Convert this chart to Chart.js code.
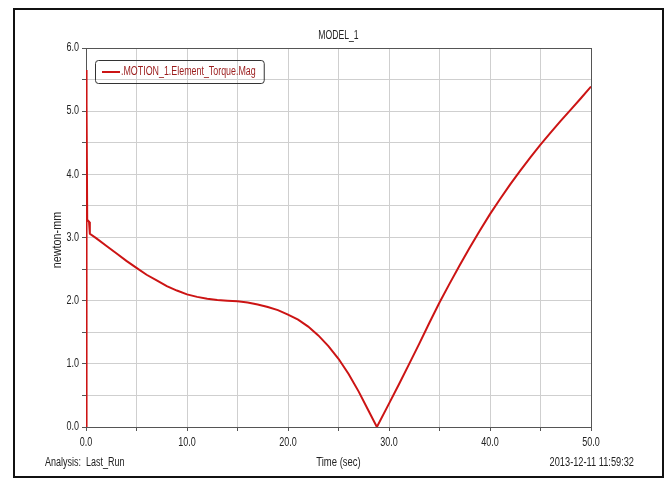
<!DOCTYPE html>
<html>
<head>
<meta charset="utf-8">
<script src="https://cdn.jsdelivr.net/npm/chart.js@4/dist/chart.umd.min.js"></script>
<style>
  body { margin: 0; background: #fff; }
</style>
</head>
<body>
<canvas id="myChart" width="666" height="479"></canvas>
<script>
var chartTitle = "MODEL_1";
var seriesName = ".MOTION_1.Element_Torque.Mag";
var xTitle = "Time (sec)";
var yTitle = "newton-mm";
var analysisText = "Analysis:  Last_Run";
var stampText = "2013-12-11 11:59:32";

var timeValues = [0, 0.03, 0.08, 0.12, 0.3, 0.38, 1, 2, 3, 4, 5, 6, 7, 8, 9, 10, 11, 12, 13, 14, 15, 16, 17, 18, 19, 20,
  21, 22, 23, 24, 25, 26, 27, 28, 28.8, 30, 31, 32, 33, 34, 35, 36, 37, 38, 39, 40, 41, 42, 43, 44, 45, 46, 47, 48, 49, 50];
var torqueValues = [0, 5.65, 5.1, 3.28, 3.25, 3.06, 2.99, 2.87, 2.75, 2.63, 2.52, 2.41, 2.32, 2.23, 2.16, 2.1, 2.06, 2.03, 2.01, 2.0, 1.99, 1.97, 1.94, 1.9, 1.85, 1.78,
  1.7, 1.59, 1.45, 1.28, 1.08, 0.84, 0.56, 0.25, 0, 0.37, 0.68, 1.0, 1.32, 1.65, 1.97, 2.27, 2.56, 2.84, 3.11, 3.37, 3.61, 3.84, 4.06, 4.27, 4.47, 4.66, 4.845, 5.025, 5.205, 5.39];
var xTicks = [0, 10, 20, 30, 40, 50];
var yTicks = [0, 1, 2, 3, 4, 5, 6];

var fontFamily = "'Liberation Sans', Arial, sans-serif";
var lineColor = "#cc1414";
var textColor = "#222";

var points = timeValues.map((t, i) => ({ x: t, y: torqueValues[i] }));

// narrow text like the original plot
function drawText(ctx, text, x, y, align, color, squeeze, rotate) {
  ctx.save();
  ctx.font = "12px " + fontFamily;
  ctx.fillStyle = color;
  ctx.textBaseline = "middle";
  ctx.textAlign = align;
  ctx.translate(x, y);
  if (rotate) ctx.rotate(-Math.PI / 2);
  ctx.scale(squeeze, 1);
  ctx.fillText(text, 0, 0);
  ctx.restore();
}

var framePlugin = {
  id: "frame",
  beforeDraw(chart) {
    var ctx = chart.ctx;
    ctx.save();
    ctx.fillStyle = "#fff";
    ctx.fillRect(0, 0, chart.width, chart.height);
    ctx.strokeStyle = "#111";
    ctx.lineWidth = 2;
    ctx.strokeRect(14, 9, chart.width - 17, chart.height - 11);
    ctx.restore();
  },
  beforeDatasetsDraw(chart) {
    var a = chart.chartArea;
    var ctx = chart.ctx;
    ctx.save();
    ctx.strokeStyle = "#555";
    ctx.lineWidth = 1;
    ctx.strokeRect(a.left + 0.5, a.top + 0.5, a.right - a.left, a.bottom - a.top);
    ctx.restore();
  },
  afterDraw(chart) {
    var ctx = chart.ctx;
    var a = chart.chartArea;
    var xs = chart.scales.x;
    var ys = chart.scales.y;

    yTicks.forEach(v => drawText(ctx, v.toFixed(1), a.left - 7, ys.getPixelForValue(v), "right", textColor, 0.75));
    xTicks.forEach(v => drawText(ctx, v.toFixed(1), xs.getPixelForValue(v), 443, "center", textColor, 0.75));

    drawText(ctx, chartTitle, (a.left + a.right) / 2, 36, "center", textColor, 0.72);
    drawText(ctx, xTitle, (a.left + a.right) / 2, 463, "center", textColor, 0.79);
    drawText(ctx, yTitle, 58, 240, "center", textColor, 0.9, true);
    drawText(ctx, analysisText, a.left - 41, 463, "left", textColor, 0.75);
    drawText(ctx, stampText, a.right + 43, 463, "right", textColor, 0.77);

    // legend box
    var ds = chart.data.datasets[0];
    var lx = a.left + 9, ly = a.top + 12;
    ctx.save();
    ctx.font = "12px " + fontFamily;
    var w = ctx.measureText(ds.label).width * 0.74 + 34;
    ctx.strokeStyle = "#333";
    ctx.lineWidth = 1;
    ctx.beginPath();
    ctx.roundRect(lx + 0.5, ly + 0.5, w, 23, 3);
    ctx.stroke();
    ctx.strokeStyle = ds.borderColor;
    ctx.lineWidth = 2;
    ctx.beginPath();
    ctx.moveTo(lx + 7, ly + 12);
    ctx.lineTo(lx + 25, ly + 12);
    ctx.stroke();
    ctx.restore();
    drawText(ctx, ds.label, lx + 26, ly + 12, "left", "#9b1c1c", 0.74);
  }
};

new Chart("myChart", {
  type: "line",
  data: {
    datasets: [{
      label: seriesName,
      data: points,
      borderColor: lineColor,
      backgroundColor: lineColor,
      borderWidth: 2,
      pointRadius: 0,
      tension: 0,
      fill: false
    }]
  },
  options: {
    responsive: false,
    animation: false,
    devicePixelRatio: 1,
    layout: { padding: { left: 14, top: 48, right: 75, bottom: 0 } },
    plugins: {
      legend: { display: false },
      tooltip: { enabled: false }
    },
    scales: {
      x: {
        type: "linear",
        min: 0,
        max: 50,
        afterFit(scale) { scale.height = 52; },
        ticks: { stepSize: 5, display: false },
        grid: { color: "#cfcfcf", tickColor: "#555", tickLength: 4 },
        border: { color: "#555" }
      },
      y: {
        min: 0,
        max: 6,
        afterFit(scale) { scale.width = 72; },
        ticks: { stepSize: 0.5, display: false },
        grid: { color: "#cfcfcf", tickColor: "#555", tickLength: 4 },
        border: { color: "#555" }
      }
    }
  },
  plugins: [framePlugin]
});
</script>
</body>
</html>
